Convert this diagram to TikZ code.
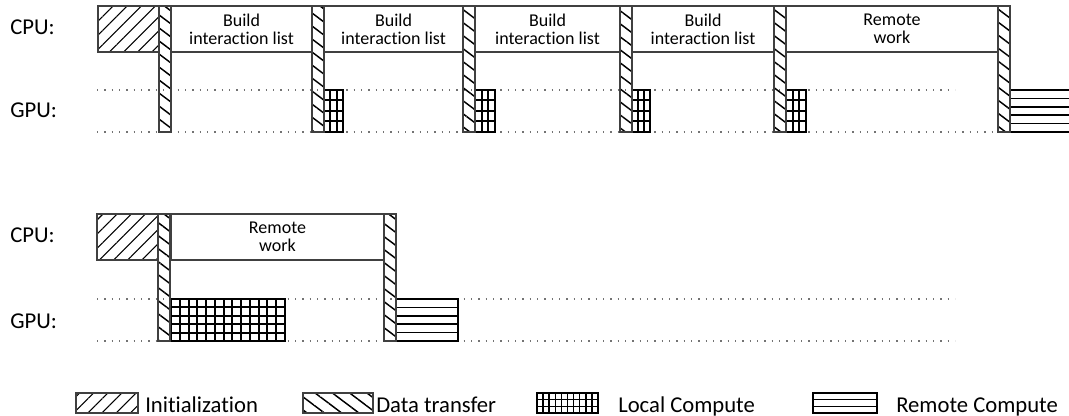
\documentclass[tikz,border=0pt]{standalone}
\usepackage{fontspec}
\setmainfont{Carlito}[RawFeature={-liga;-clig;-dlig;-calt}]
\usetikzlibrary{patterns.meta}

\begin{document}
\begin{tikzpicture}[x=0.75pt,y=-0.75pt,
    box/.style={draw=black!75,line width=0.8pt},
    init/.style={box,pattern={Lines[angle=45,distance=7.5pt,line width=0.8pt]}},
    transfer/.style={box,pattern={Lines[angle=-37,distance=7.8pt,line width=1.1pt]}},
    gridline/.style={draw=black,line width=1.5pt},
    guide/.style={draw=black!55,line width=0.9pt,dash pattern=on 0.9pt off 4.6pt},
    lbl/.style={font=\fontsize{17}{20}\selectfont,inner sep=0pt},
    task/.style={font=\fontsize{13.5}{13.3}\selectfont,align=center,inner sep=0pt}]

      \useasboundingbox (0,0) rectangle (1069,416);

      % row labels
      \foreach \yc/\yg [count=\ni] in {35/118, 243/328}
      {
        \node[lbl,anchor=base west] (cpu\ni) at (10,\yc) {CPU:};
        \node[lbl,anchor=base west] (gpu\ni) at (10,\yg) {GPU:};
      }

      % dotted gpu lanes
      \foreach \ya/\xe in {90/955, 132/1033, 299/955, 341/955}
      \draw[guide] (97,\ya) -- (\xe,\ya);

      % cpu work boxes
      \def\tasks{
        171/312/6/Build/{interaction list},
        324/463/6/Build/{interaction list},
        475/620/6/Build/{interaction list},
        632/774/6/Build/{interaction list},
        786/998/6/Remote/work,
        171/384/214/Remote/work
      }
      \foreach \xa/\xb/\ya/\first/\second [count=\ni] in \tasks
      {
        \draw[box,fill=white] (\xa,\ya) rectangle (\xb,\ya+46);
        \node[task] (task\ni) at ({(\xa+\xb)/2},\ya+23) {\first\\\second};
      }

      % initialization
      \foreach \xa/\ya in {98/6, 97/214}
      \draw[init] (\xa,\ya) rectangle (\xa+61,\ya+46);

      % local compute grids (x1/x2/y1/y2/cols/rows)
      \def\localboxes{324/343/90/132/3/4, 475/495/90/132/3/4, 632/650/90/132/3/4,
        786/806/90/132/3/4, 171/285/299/341/13/5}
      \foreach \xa/\xb/\ya/\yb/\nc/\nr in \localboxes
      {
        \draw[gridline] (\xa,\ya) rectangle (\xb,\yb);
        \pgfmathtruncatemacro\mc{\nc-1}
        \pgfmathtruncatemacro\mr{\nr-1}
        \foreach \k in {1,...,\mc} \draw[gridline] ({\xa+(\xb-\xa)*\k/\nc},\ya) -- ({\xa+(\xb-\xa)*\k/\nc},\yb);
        \foreach \k in {1,...,\mr} \draw[gridline] (\xa,{\ya+(\yb-\ya)*\k/\nr}) -- (\xb,{\ya+(\yb-\ya)*\k/\nr});
      }

      % remote compute stripes (x1/x2/y1/y2/rows)
      \def\remoteboxes{1010/1074/90/132/5, 396/458/299/341/5}
      \foreach \xa/\xb/\ya/\yb/\nr in \remoteboxes
      {
        \draw[gridline,line width=1.1pt] (\xa,\ya) rectangle (\xb,\yb);
        \pgfmathtruncatemacro\mr{\nr-1}
        \foreach \k in {1,...,\mr} \draw[gridline,line width=1.1pt] (\xa,{\ya+(\yb-\ya)*\k/\nr}) -- (\xb,{\ya+(\yb-\ya)*\k/\nr});
      }

      % data transfer bars
      \foreach \xa in {159, 312, 463, 620, 774, 998}
      \draw[transfer] (\xa,6) rectangle (\xa+12,132);
      \foreach \xa in {158, 384}
      \draw[transfer] (\xa,214) rectangle (\xa+12,341);

      % legend
      \draw[init] (76,393) rectangle (138,413);
      \node[lbl,anchor=base west] (leginit) at (145,412) {Initialization};
      \draw[transfer] (303,393) rectangle (373,413);
      \node[lbl,anchor=base west] (legtransfer) at (376,412) {Data transfer};
      \draw[gridline] (537,393) rectangle (598,413);
      \foreach \k in {1,...,9} \draw[gridline,line width=1.1pt] ({537+6.1*\k},393) -- ({537+6.1*\k},413);
      \foreach \k in {1,2} \draw[gridline,line width=1.1pt] (537,{393+20*\k/3}) -- (598,{393+20*\k/3});
      \node[lbl,anchor=base west] (leglocal) at (618,412) {Local Compute};
      \draw[gridline,line width=1.1pt] (813,393) rectangle (877,413);
      \foreach \k in {1,2} \draw[gridline,line width=1.1pt] (813,{393+20*\k/3}) -- (877,{393+20*\k/3});
      \node[lbl,anchor=base west] (legremote) at (896,412) {Remote Compute};

    \end{tikzpicture}
\end{document}
